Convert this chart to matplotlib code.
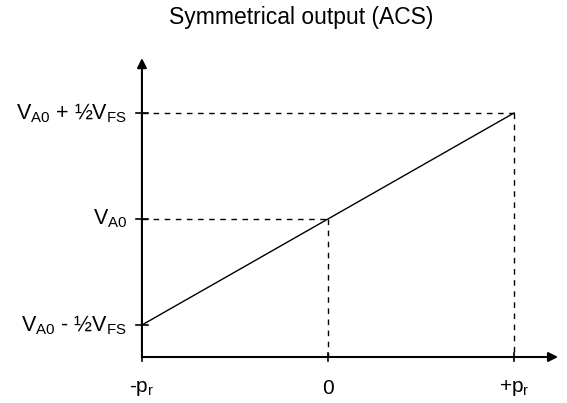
import matplotlib.pyplot as plt

plt.rcParams['font.family'] = ['Liberation Sans', 'DejaVu Sans']
plt.rcParams['mathtext.fontset'] = 'custom'
plt.rcParams['mathtext.rm'] = 'Liberation Sans'
plt.rcParams['mathtext.it'] = 'Liberation Sans'

# pressure (normalised to p_r) and output (in units of V_FS around V_A0)
pressure = [-1.0, 1.0]
output = [-0.5, 0.5]

x_ticks = [-1.0, 0.0, 1.0]
x_labels = ['-p$_\\mathrm{r}$', '0', '+p$_\\mathrm{r}$']
y_ticks = [-0.5, 0.0, 0.5]
y_labels = ['V$_\\mathrm{A0}$ - ½V$_\\mathrm{FS}$', 'V$_\\mathrm{A0}$',
            'V$_\\mathrm{A0}$ + ½V$_\\mathrm{FS}$']

# guide points (dashed projections onto the axes)
guide_x = [0.0, 1.0]
guide_y = [0.0, 0.5]


def main():
    fig = plt.figure(figsize=(5.67, 4.03), dpi=100)
    ax = fig.add_axes([0, 0, 1, 1])
    ax.set_xlim(-1.763, 1.285)
    ax.set_ylim(-0.868, 1.033)
    ax.axis('off')

    x0 = -1.0
    y0 = -0.651
    x_end = 1.237
    y_end = 0.759

    # axes with arrows
    ax.annotate('', xy=(x_end, y0), xytext=(x0, y0),
                arrowprops=dict(arrowstyle='-|>', color='black', lw=1.5,
                                mutation_scale=14, shrinkA=0, shrinkB=0))
    ax.annotate('', xy=(x0, y_end), xytext=(x0, y0),
                arrowprops=dict(arrowstyle='-|>', color='black', lw=1.5,
                                mutation_scale=14, shrinkA=0, shrinkB=0))

    # ticks
    for xt in x_ticks:
        ax.plot([xt, xt], [y0 - 0.02, y0 + 0.02], color='black', lw=1.2)
    for yt in y_ticks:
        ax.plot([x0 - 0.03, x0 + 0.03], [yt, yt], color='black', lw=1.2)

    # dashed guides
    for gx, gy in zip(guide_x, guide_y):
        ax.plot([x0, gx], [gy, gy], color='black', lw=1, ls=(0, (4, 4)))
        ax.plot([gx, gx], [gy, y0], color='black', lw=1, ls=(0, (4, 4)))

    # characteristic
    ax.plot(pressure, output, color='black', lw=1)

    for xt, lab in zip(x_ticks, x_labels):
        ax.text(xt, y0 - 0.147, lab, ha='center', va='center', fontsize=15)
    for yt, lab in zip(y_ticks, y_labels):
        ax.text(x0 - 0.08, yt, lab, ha='right', va='center', fontsize=15.5)

    ax.text(-0.142, 0.92, 'Symmetrical output (ACS)', ha='center',
            va='baseline', fontsize=16.5)

    fig.savefig('out.png', dpi=100)


if __name__ == '__main__':
    main()
